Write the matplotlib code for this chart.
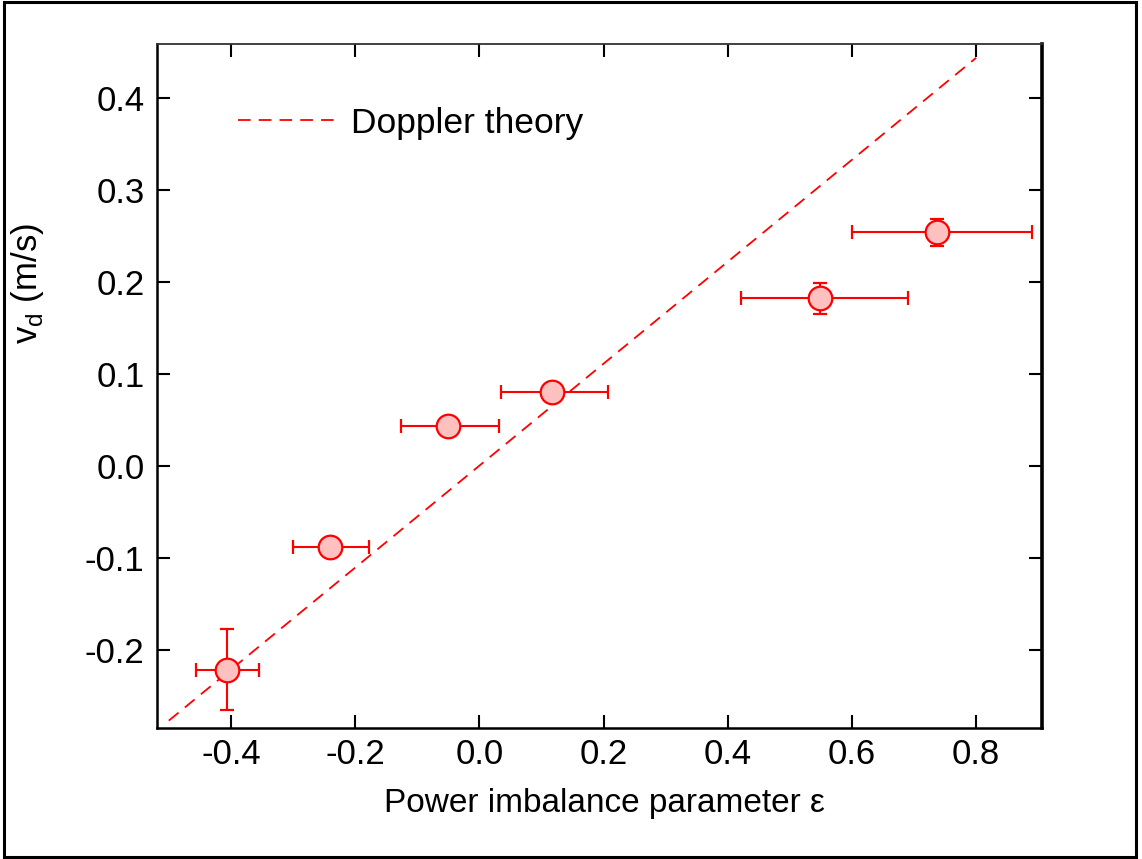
import matplotlib
matplotlib.use("Agg")
import matplotlib.pyplot as plt
from matplotlib.patches import Rectangle

plt.rcParams['font.family'] = ['Liberation Sans', 'DejaVu Sans']
plt.rcParams['mathtext.fontset'] = 'custom'
plt.rcParams['mathtext.rm'] = 'Liberation Sans'

# Data
eps = [-0.406, -0.2405, -0.050, 0.1166, 0.5488, 0.7368]
vd = [-0.2217, -0.0877, 0.0438, 0.0808, 0.1823, 0.2540]
eps_err_lo = [0.050, 0.060, 0.076, 0.082, 0.128, 0.136]
eps_err_hi = [0.052, 0.063, 0.082, 0.091, 0.142, 0.153]
vd_err = [0.044, 0.0, 0.0, 0.0, 0.0167, 0.0145]

theory_eps = [-0.5, 0.8]
theory_vd = [-0.277, 0.444]

xticks = [-0.4, -0.2, 0.0, 0.2, 0.4, 0.6, 0.8]
yticks = [-0.2, -0.1, 0.0, 0.1, 0.2, 0.3, 0.4]

fig = plt.figure(figsize=(11.42, 8.59), dpi=100)
ax = fig.add_axes([157/1142, 1-728/859, (1042-157)/1142, (728-44)/859])

ax.plot(theory_eps, theory_vd, color='red', lw=1.3, dashes=(7, 4.5), label='Doppler theory')
ax.errorbar(eps, vd, xerr=[eps_err_lo, eps_err_hi], yerr=vd_err, fmt='o', ms=17,
            mfc='#ffc0c0', mec='red', mew=1.6, ecolor='red', elinewidth=1.5,
            capsize=5, capthick=1.5, zorder=3)

ax.set_xlim(-0.519, 0.906)
ax.set_ylim(-0.285, 0.459)
ax.set_xticks(xticks)
ax.set_yticks(yticks)
ax.set_xticklabels([f"{t:.1f}" for t in xticks])
ax.set_yticklabels([f"{t:.1f}" for t in yticks])
ax.tick_params(direction='in', length=9.5, width=1.5, labelsize=25,
               top=True, right=True, color='black')
ax.tick_params(axis='y', pad=9)
ax.tick_params(axis='x', pad=7)

for s in ['left', 'bottom']:
    ax.spines[s].set_linewidth(1.8)
ax.spines['right'].set_linewidth(2.6)
ax.spines['top'].set_linewidth(1.3)
ax.spines['top'].set_color('#333333')

ax.set_xlabel('Power imbalance parameter ε', fontsize=24)
ax.xaxis.set_label_coords(0.506, -0.088)
ax.set_ylabel(r'v$_\mathregular{d}$ (m/s)', fontsize=25)
ax.yaxis.set_label_coords(-0.125, 0.65)

leg = ax.legend(loc='upper left', bbox_to_anchor=(0.055, 0.955), frameon=False,
                fontsize=25.5, handlelength=2.9, handletextpad=0.3)

fig.patches.append(Rectangle((4/1142, 2/859), 1132/1142, 855/859, transform=fig.transFigure,
                             fill=False, edgecolor='black', lw=2.2))

fig.savefig('out.png', dpi=100)
